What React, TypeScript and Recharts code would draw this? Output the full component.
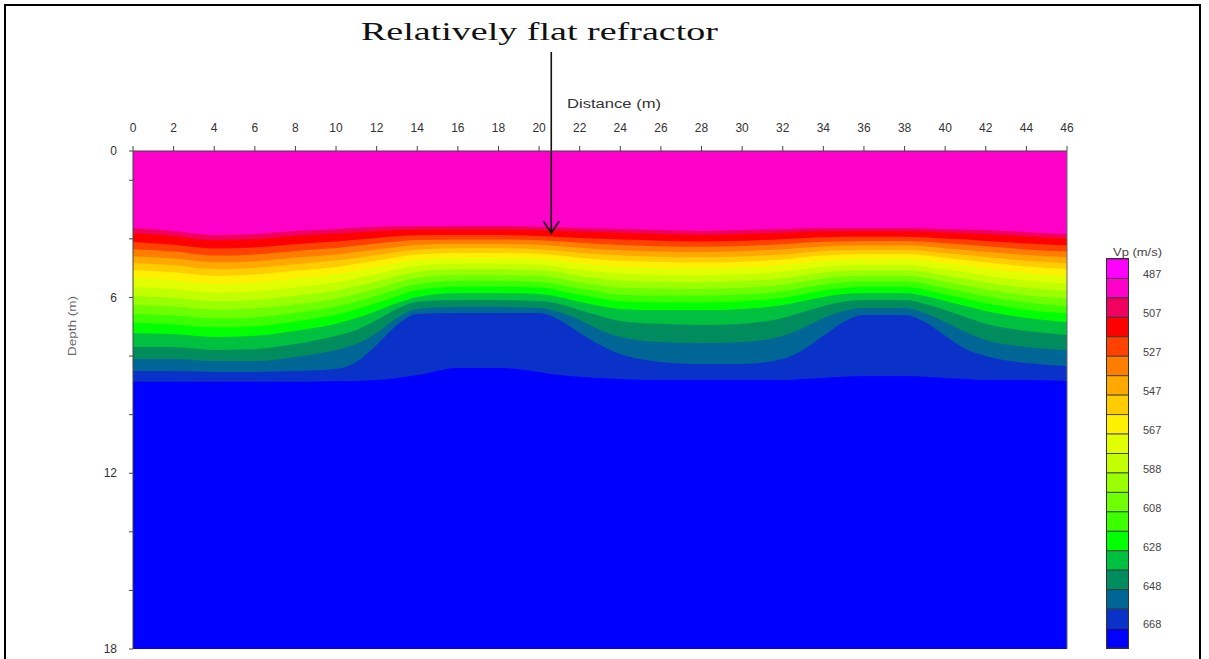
import React from 'react';
import { AreaChart, Area, XAxis, YAxis, CartesianGrid, ReferenceLine } from 'recharts';

// Distance samples (m) for the lower contours (extra samples on the flanks of the two highs)
const distance = [0, 2, 4, 6, 8, 10, 11, 12, 13, 14, 16, 18, 20, 21, 22, 23, 24, 26, 28, 30, 32, 33, 34, 35, 36, 38, 39, 40, 41, 42, 44, 46];
// Distance samples (m) for the smooth upper contours
const coarseDistance = [0, 2, 4, 6, 8, 10, 12, 14, 16, 18, 20, 22, 24, 26, 28, 30, 32, 34, 36, 38, 40, 42, 44, 46];

const distanceTicks = [0, 2, 4, 6, 8, 10, 12, 14, 16, 18, 20, 22, 24, 26, 28, 30, 32, 34, 36, 38, 40, 42, 44, 46];
const depthTicks = [1, 2, 4, 6, 8, 10, 12, 14, 16, 18];
const depthTickLabels: Record<number, string> = { 1: '0', 6: '6', 12: '12', 18: '18' };

// Isovelocity contour depths (m) along the profile
const c497 = [3.63, 3.73, 3.87, 3.83, 3.73, 3.66, 3.59, 3.56, 3.56, 3.56, 3.59, 3.63, 3.66, 3.70, 3.73, 3.70, 3.66, 3.63, 3.63, 3.63, 3.66, 3.70, 3.77, 3.83];
const c507 = [3.80, 3.90, 4.04, 4.00, 3.89, 3.82, 3.73, 3.68, 3.67, 3.67, 3.70, 3.75, 3.79, 3.83, 3.86, 3.83, 3.79, 3.74, 3.74, 3.74, 3.78, 3.83, 3.91, 3.97];
const c517 = [4.11, 4.20, 4.33, 4.29, 4.18, 4.09, 3.97, 3.88, 3.87, 3.87, 3.90, 3.97, 4.02, 4.06, 4.09, 4.06, 4.01, 3.94, 3.93, 3.93, 3.99, 4.07, 4.16, 4.23];
const c527 = [4.35, 4.43, 4.57, 4.53, 4.41, 4.31, 4.16, 4.04, 4.02, 4.02, 4.05, 4.13, 4.21, 4.25, 4.27, 4.24, 4.18, 4.10, 4.07, 4.07, 4.15, 4.25, 4.36, 4.43];
const c537 = [4.59, 4.67, 4.80, 4.76, 4.64, 4.53, 4.36, 4.21, 4.17, 4.17, 4.20, 4.30, 4.39, 4.43, 4.45, 4.42, 4.35, 4.26, 4.22, 4.22, 4.32, 4.44, 4.55, 4.63];
const c547 = [4.82, 4.90, 5.03, 4.99, 4.87, 4.74, 4.55, 4.37, 4.32, 4.32, 4.35, 4.47, 4.57, 4.61, 4.63, 4.60, 4.53, 4.41, 4.37, 4.37, 4.48, 4.62, 4.75, 4.83];
const c557 = [5.06, 5.14, 5.26, 5.22, 5.09, 4.96, 4.74, 4.53, 4.48, 4.48, 4.51, 4.64, 4.75, 4.79, 4.81, 4.78, 4.70, 4.57, 4.52, 4.52, 4.64, 4.80, 4.94, 5.03];
const c567 = [5.33, 5.41, 5.53, 5.49, 5.35, 5.20, 4.96, 4.71, 4.65, 4.65, 4.68, 4.83, 4.96, 5.00, 5.02, 4.98, 4.90, 4.75, 4.69, 4.69, 4.83, 5.01, 5.17, 5.26];
const c577 = [5.64, 5.71, 5.83, 5.79, 5.65, 5.48, 5.20, 4.92, 4.85, 4.85, 4.88, 5.05, 5.19, 5.23, 5.25, 5.21, 5.12, 4.95, 4.88, 4.88, 5.04, 5.25, 5.42, 5.52];
const c588 = [5.95, 6.01, 6.13, 6.09, 5.94, 5.76, 5.45, 5.13, 5.04, 5.04, 5.07, 5.26, 5.43, 5.47, 5.48, 5.44, 5.35, 5.15, 5.07, 5.07, 5.25, 5.49, 5.67, 5.78];
const c598 = [6.25, 6.31, 6.42, 6.38, 6.23, 6.04, 5.69, 5.33, 5.24, 5.24, 5.27, 5.48, 5.66, 5.70, 5.71, 5.67, 5.57, 5.35, 5.26, 5.26, 5.46, 5.72, 5.92, 6.04];
const c608 = [6.56, 6.61, 6.72, 6.68, 6.52, 6.31, 5.94, 5.54, 5.44, 5.44, 5.47, 5.69, 5.90, 5.94, 5.94, 5.90, 5.79, 5.56, 5.45, 5.45, 5.68, 5.96, 6.17, 6.30];
const c618 = [6.87, 6.92, 7.02, 6.98, 6.82, 6.59, 6.19, 5.75, 5.63, 5.63, 5.66, 5.91, 6.13, 6.17, 6.17, 6.13, 6.01, 5.76, 5.64, 5.64, 5.89, 6.20, 6.42, 6.55];
const c628 = [7.21, 7.25, 7.35, 7.31, 7.14, 6.90, 6.70, 6.46, 6.19, 5.98, 5.85, 5.85, 5.88, 5.98, 6.15, 6.29, 6.39, 6.43, 6.43, 6.39, 6.26, 6.12, 5.98, 5.88, 5.85, 5.85, 5.95, 6.12, 6.29, 6.46, 6.70, 6.84];
const c638 = [7.69, 7.69, 7.79, 7.76, 7.59, 7.31, 7.11, 6.77, 6.39, 6.15, 6.09, 6.09, 6.12, 6.22, 6.43, 6.63, 6.80, 6.90, 6.94, 6.90, 6.70, 6.50, 6.29, 6.15, 6.09, 6.09, 6.22, 6.43, 6.67, 6.90, 7.14, 7.28];
const c648 = [8.10, 8.10, 8.17, 8.17, 8.03, 7.79, 7.59, 7.21, 6.70, 6.39, 6.32, 6.32, 6.36, 6.50, 6.77, 7.11, 7.35, 7.52, 7.55, 7.52, 7.31, 7.04, 6.70, 6.46, 6.36, 6.36, 6.53, 6.84, 7.18, 7.45, 7.69, 7.79];
const c658 = [8.51, 8.51, 8.54, 8.54, 8.51, 8.44, 8.20, 7.62, 6.94, 6.56, 6.53, 6.53, 6.53, 6.77, 7.21, 7.62, 7.93, 8.20, 8.27, 8.27, 8.10, 7.79, 7.31, 6.84, 6.60, 6.60, 6.84, 7.31, 7.76, 8.00, 8.24, 8.34];
const c668 = [8.88, 8.88, 8.88, 8.88, 8.88, 8.85, 8.85, 8.82, 8.75, 8.65, 8.41, 8.41, 8.54, 8.65, 8.71, 8.75, 8.78, 8.82, 8.82, 8.82, 8.82, 8.78, 8.75, 8.71, 8.68, 8.68, 8.71, 8.75, 8.78, 8.82, 8.82, 8.85];

// Velocity class boundaries (m/s) and colours of the 20 classes
const levels = [477.0, 487.05, 497.1, 507.15, 517.2, 527.25, 537.3, 547.35, 557.4, 567.45, 577.5, 587.55, 597.6, 607.65, 617.7, 627.75, 637.8, 647.85, 657.9, 667.95, 678.0];
const classColors = ['#FF00FF', '#FF00C8', '#F0005F', '#FF0000', '#FF4200', '#FF7E00', '#FFA800', '#FFCC00', '#FFF000', '#E2FF00', '#C2FF00', '#9AFF00', '#6EFF00', '#3CFF00', '#00FF00', '#00C040', '#008C5C', '#006696', '#0A32C8', '#0000FF'];
const legendTicks = [487.05, 507.15, 527.25, 547.35, 567.45, 587.55, 607.65, 627.75, 647.85, 667.95];

const upperContours = [
  { key: 'v497', values: c497 }, { key: 'v507', values: c507 }, { key: 'v517', values: c517 },
  { key: 'v527', values: c527 }, { key: 'v537', values: c537 }, { key: 'v547', values: c547 },
  { key: 'v557', values: c557 }, { key: 'v567', values: c567 }, { key: 'v577', values: c577 },
  { key: 'v588', values: c588 }, { key: 'v598', values: c598 }, { key: 'v608', values: c608 },
  { key: 'v618', values: c618 },
];
const lowerContours = [
  { key: 'v628', values: c628 }, { key: 'v638', values: c638 }, { key: 'v648', values: c648 },
  { key: 'v658', values: c658 }, { key: 'v668', values: c668 },
];

const rows = distance.map((x, i) => {
  const row: Record<string, number | null> = { x };
  const j = coarseDistance.indexOf(x);
  upperContours.forEach((c) => { row[c.key] = j >= 0 ? c.values[j] : null; });
  lowerContours.forEach((c) => { row[c.key] = c.values[i]; });
  return row;
});

// contour k (0-based) bounds class k+1 from below
const bands = [...upperContours, ...lowerContours].map((c, k) => ({ key: c.key, color: classColors[k + 1] })).reverse();

const legendRows = [{ x: 0 }, { x: 1 }];
const legendCells = classColors.map((color, i) => ({ color, lo: levels[i], hi: levels[i + 1] }));

const SANS = '"Liberation Sans", Arial, sans-serif';

const ArrowShape = (p: any) => {
  const { x1, y1, x2, y2 } = p;
  if (x1 == null || y2 == null) return null;
  return (
    <g>
      <line x1={x1} y1={y1} x2={x2} y2={y2} stroke="#111" strokeWidth={1.6} />
      <path d={`M${x2 - 8},${y2 - 12} L${x2},${y2} L${x2 + 8},${y2 - 12}`} fill="none" stroke="#111" strokeWidth={1.6} />
    </g>
  );
};

export default function App() {
  return (
    <div style={{ position: 'absolute', left: 0, top: 0, width: 1209, height: 659, background: '#fff', overflow: 'hidden', fontFamily: SANS }}>
      <div style={{ position: 'absolute', left: 4, top: 4, width: 1197, height: 655, boxSizing: 'border-box', borderTop: '2px solid #000', borderLeft: '2px solid #000', borderRight: '2px solid #000' }} />
      <div style={{ position: 'absolute', left: 0, top: 0 }}>
        <AreaChart width={1209} height={659} data={rows} margin={{ top: 121, left: 93, right: 132, bottom: 10 }} baseValue={1}>
          <CartesianGrid horizontal={false} vertical={false} fill={classColors[19]} fillOpacity={1} />
          <XAxis dataKey="x" type="number" domain={[0, 46]} ticks={distanceTicks} interval={0} orientation="top" height={30}
            tickSize={5} tickMargin={14} stroke="#444" tick={{ fontSize: 12, fill: '#333', fontFamily: SANS }} />
          <YAxis type="number" domain={[1, 18]} reversed ticks={depthTicks} interval={0} width={40} tickSize={4} tickMargin={12}
            stroke="#444" tick={{ fontSize: 12, fill: '#333', fontFamily: SANS }} tickFormatter={(v: number) => depthTickLabels[v] ?? ''} />
          <YAxis yAxisId="right" orientation="right" type="number" domain={[1, 18]} reversed ticks={depthTicks} interval={0} width={10}
            tickSize={4} stroke="#666" tickFormatter={() => ''} />
          {bands.map((b) => (
            <Area key={b.key} dataKey={b.key} type="monotone" stroke="none" fill={b.color} fillOpacity={1}
              baseValue={1} connectNulls dot={false} activeDot={false} isAnimationActive={false} />
          ))}
          <ReferenceLine segment={[{ x: 20.6, y: -2.38 }, { x: 20.6, y: 3.8 }]} ifOverflow="visible" shape={ArrowShape} />
        </AreaChart>
      </div>
      <div style={{ position: 'absolute', left: 1106, top: 258, width: 23, height: 391, boxSizing: 'border-box', border: '1px solid #333' }} />
      <div style={{ position: 'absolute', left: 1090, top: 230 }}>
        <AreaChart width={119} height={429} data={legendRows} margin={{ top: 29, left: 17, right: 31, bottom: 11 }}>
          <XAxis dataKey="x" type="number" domain={[0, 1]} hide />
          <YAxis orientation="right" type="number" domain={[477, 678]} reversed ticks={legendTicks} interval={0} width={50}
            tickSize={0} tickMargin={15} axisLine={false} tickLine={false}
            tick={{ fontSize: 11, fill: '#444', fontFamily: SANS, dy: -4 }} tickFormatter={(v: number) => String(Math.round(v))} />
          {legendCells.map((c, i) => (
            <Area key={i} dataKey={() => [c.lo, c.hi]} type="linear" stroke="#333" strokeWidth={0.8} fill={c.color} fillOpacity={1}
              dot={false} activeDot={false} isAnimationActive={false} />
          ))}
        </AreaChart>
      </div>
      <svg width={1209} height={659} style={{ position: 'absolute', left: 0, top: 0, pointerEvents: 'none' }}>
        <text x={361} y={40} fontFamily='"Liberation Serif", "Times New Roman", serif' fontSize={25} fill="#111" textLength={357} lengthAdjust="spacingAndGlyphs">Relatively flat refractor</text>
        <text x={567} y={108} fontFamily={SANS} fontSize={12} fill="#333" textLength={94} lengthAdjust="spacingAndGlyphs">Distance (m)</text>
        <text x={1113} y={256} fontFamily={SANS} fontSize={11} fill="#444" textLength={49} lengthAdjust="spacingAndGlyphs">Vp (m/s)</text>
        <text transform="translate(76,326) rotate(-90)" textAnchor="middle" fontFamily={SANS} fontSize={11} fill="#666" textLength={60} lengthAdjust="spacingAndGlyphs">Depth (m)</text>
      </svg>
    </div>
  );
}
